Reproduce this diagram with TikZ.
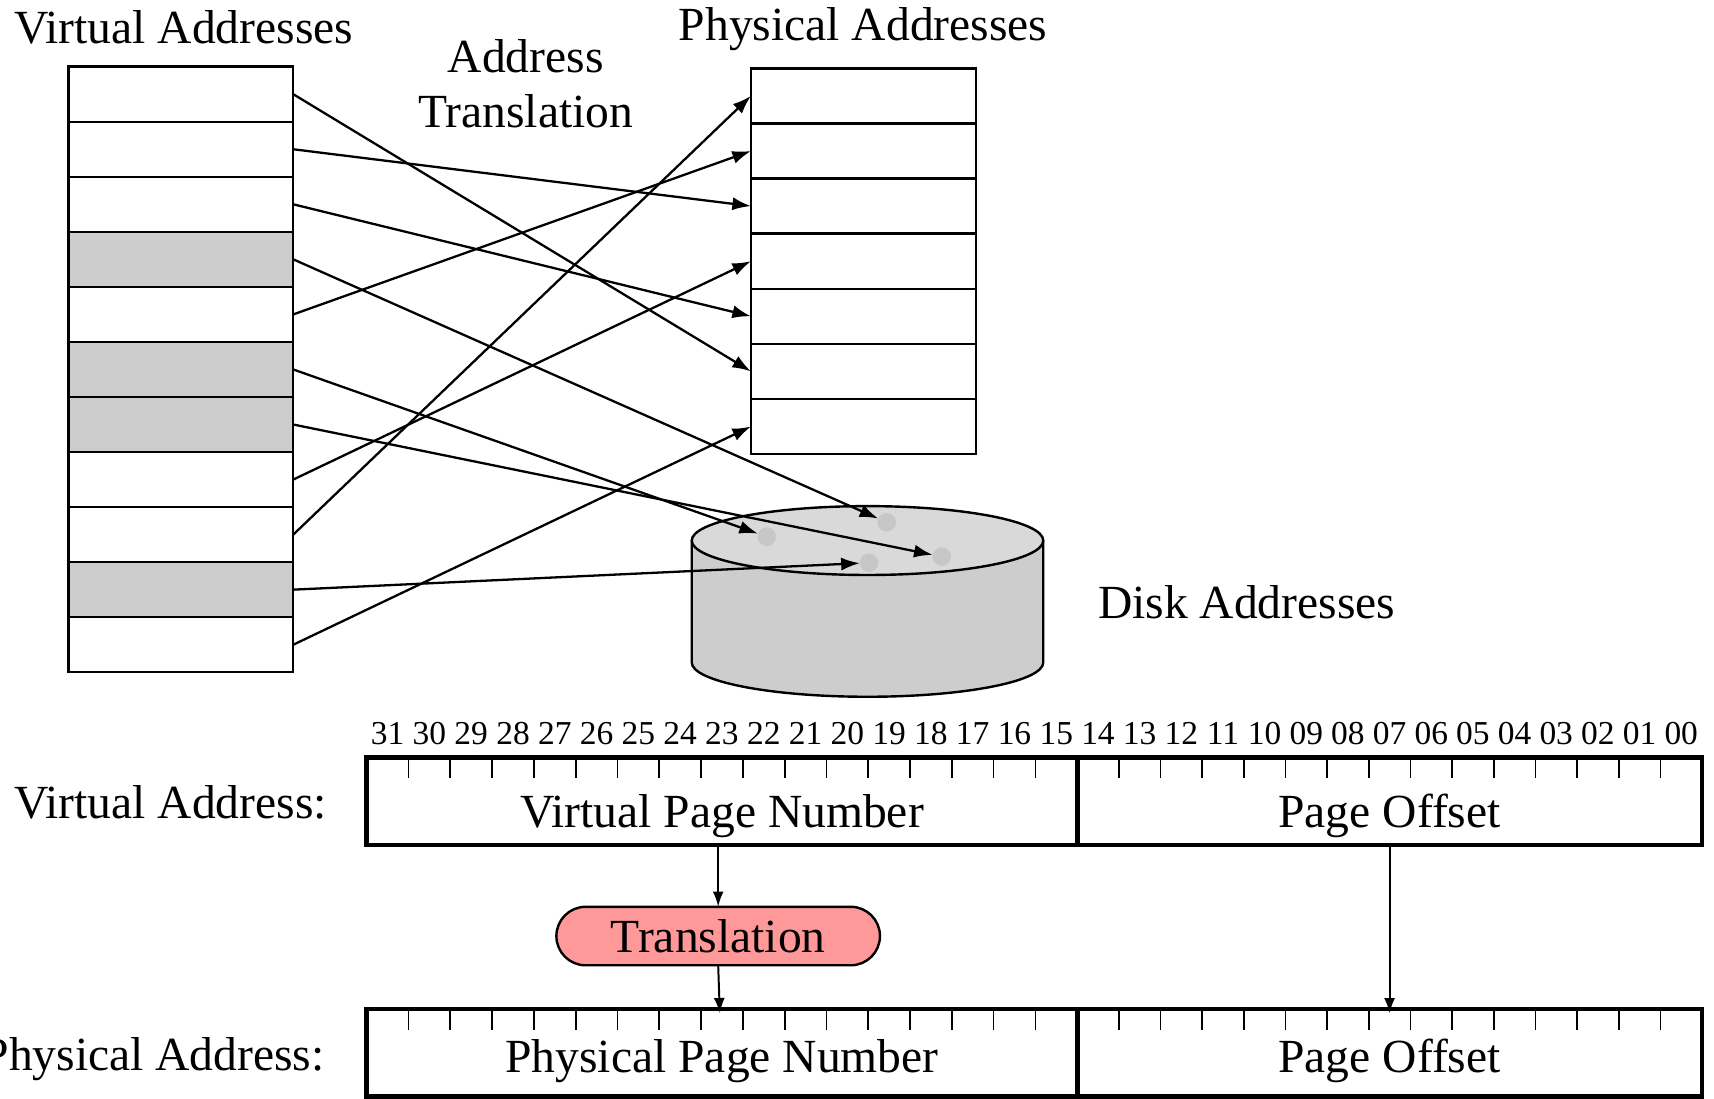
\documentclass[tikz,border=0pt]{standalone}
\usepackage{fontspec}
\setmainfont{Liberation Serif}
\usetikzlibrary{arrows.meta}
\definecolor{shade}{HTML}{CCCCCC}
\definecolor{disktop}{HTML}{D9D9D9}
\definecolor{diskside}{HTML}{CDCDCD}
\definecolor{diskdot}{HTML}{C7C7C7}
\definecolor{pillfill}{HTML}{FF9999}
\begin{document}
\begin{tikzpicture}[x=1pt,y=-1pt,
  big/.style={font=\fontsize{43.5}{52}\selectfont, inner sep=0pt, outer sep=0pt},
  small/.style={font=\fontsize{30.6}{36}\selectfont, inner sep=0pt, outer sep=0pt},
  vrow/.style={draw, line width=2.2pt, minimum width=205.8pt, minimum height=50.36pt, inner sep=0pt, outer sep=0pt, anchor=north west},
  prow/.style={draw, line width=2.2pt, fill=white, minimum width=205.6pt, minimum height=50.41pt, inner sep=0pt, outer sep=0pt, anchor=north west},
  dotst/.style={circle, fill=diskdot, minimum size=17pt, inner sep=0pt, outer sep=0pt},
  arr/.style={-{Latex[length=17pt,width=12pt]}, line width=2.1pt},
  arrs/.style={-{Latex[length=14pt,width=10pt]}, line width=1.8pt},
  abox/.style={draw, line width=4.5pt, inner sep=0pt, outer sep=0pt, minimum height=80.2pt, anchor=north west},
  tickst/.style={line width=1.6pt},
  pillst/.style={draw, line width=2.2pt, fill=pillfill, rounded corners=26.7pt, minimum width=296pt, minimum height=53.5pt, inner sep=0pt, outer sep=0pt, font=\fontsize{43.5}{52}\selectfont}
]
\useasboundingbox (0,0) rectangle (1568,1005);

% titles
\node[big, anchor=base] (tva) at (168,40) {Virtual Addresses};
\node[big, anchor=base] (tpa) at (789.6,37) {Physical Addresses};
\node[big, anchor=base] (tat1) at (481,66) {Address};
\node[big, anchor=base] (tat2) at (481,117) {Translation};
\node[big, anchor=base] (tdisk) at (1140.5,566) {Disk Addresses};

% virtual pages
\foreach \i/\f in {1/white,2/white,3/white,4/shade,5/white,6/shade,7/shade,8/white,9/white,10/shade,11/white}
  \node[vrow, fill=\f] (v\i) at (62.5,{61+50.36*(\i-1)}) {};

% physical pages
\foreach \i in {1,...,7}
  \node[prow] (p\i) at (687,{62.5+50.41*(\i-1)}) {};

% disk
\draw[fill=diskside, line width=2.2pt] (632.8,494.5) -- (632.8,606)
  arc[start angle=180, end angle=0, x radius=160.8, y radius=31.4] -- (954.4,494.5);
\draw[fill=disktop, line width=2.2pt] (793.6,494.5) ellipse[x radius=160.8, y radius=31.5];
\node[dotst] (d1) at (701.4,491) {};
\node[dotst] (d2) at (811.2,477.8) {};
\node[dotst] (d3) at (861.5,509.3) {};
\node[dotst] (d4) at (795,514.8) {};

% mappings
\draw[arr] (v1.east) -- (p6.west);
\draw[arr] (v2.east) -- (p3.west);
\draw[arr] (v3.east) -- (p5.west);
\draw[arr] (v5.east) -- (p2.west);
\draw[arr] (v8.east) -- (p4.west);
\draw[arr] (v9.east) -- (p1.west);
\draw[arr] (v11.east) -- (p7.west);
\draw[arr] (v4.east) -- (d2);
\draw[arr] (v6.east) -- (d1);
\draw[arr] (v7.east) -- (d3);
\draw[arr] (v10.east) -- (d4);

% bit numbers
\foreach \b [count=\k from 0] in {31,30,29,28,27,26,25,24,23,22,21,20,19,18,17,16,15}
  \node[small, anchor=base] (bit\b) at ({335.5+38.23*(\k+0.5)},681) {\b};
\foreach \b [count=\k from 0] in {14,13,12,11,10,09,08,07,06,05,04,03,02,01,00}
  \node[small, anchor=base] (bit\b) at ({985.4+38.11*(\k+0.5)},681) {\b};

% address boxes
\node[abox, minimum width=649.9pt] (vpn) at (335.5,692.8) {};
\node[abox, minimum width=571.6pt] (vpo) at (985.4,692.8) {};
\node[abox, minimum width=649.9pt] (ppn) at (335.5,923) {};
\node[abox, minimum width=571.6pt] (ppo) at (985.4,923) {};

\foreach \y in {692.8,923}{
  \foreach \k in {1,...,16} \draw[tickst] ({335.5+38.23*\k},\y) -- ++(0,19);
  \foreach \k in {1,...,14} \draw[tickst] ({985.4+38.11*\k},\y) -- ++(0,19);
}

\node[big, anchor=base] (tvpn) at (660.5,757) {Virtual Page Number};
\node[big, anchor=base] (tvpo) at (1271.2,757) {Page Offset};
\node[big, anchor=base] (tppn) at (660.5,981) {Physical Page Number};
\node[big, anchor=base] (tppo) at (1271.2,981) {Page Offset};

\node[big, anchor=base east] (lva) at (299,749) {Virtual Address:};
\node[big, anchor=base east] (lpa) at (297,979) {Physical Address:};

% translation
\node[pillst] (tr) at (657,856.3) {Translation};
\draw[arrs] (tr.north |- vpn.south) -- (tr.north);
\draw[arrs] (tr.south) -- ([xshift=1.5pt,yshift=-4pt]tr.south |- ppn.north);
\draw[arrs] (vpo.south) -- ([yshift=-4pt]ppo.north);
\end{tikzpicture}
\end{document}
